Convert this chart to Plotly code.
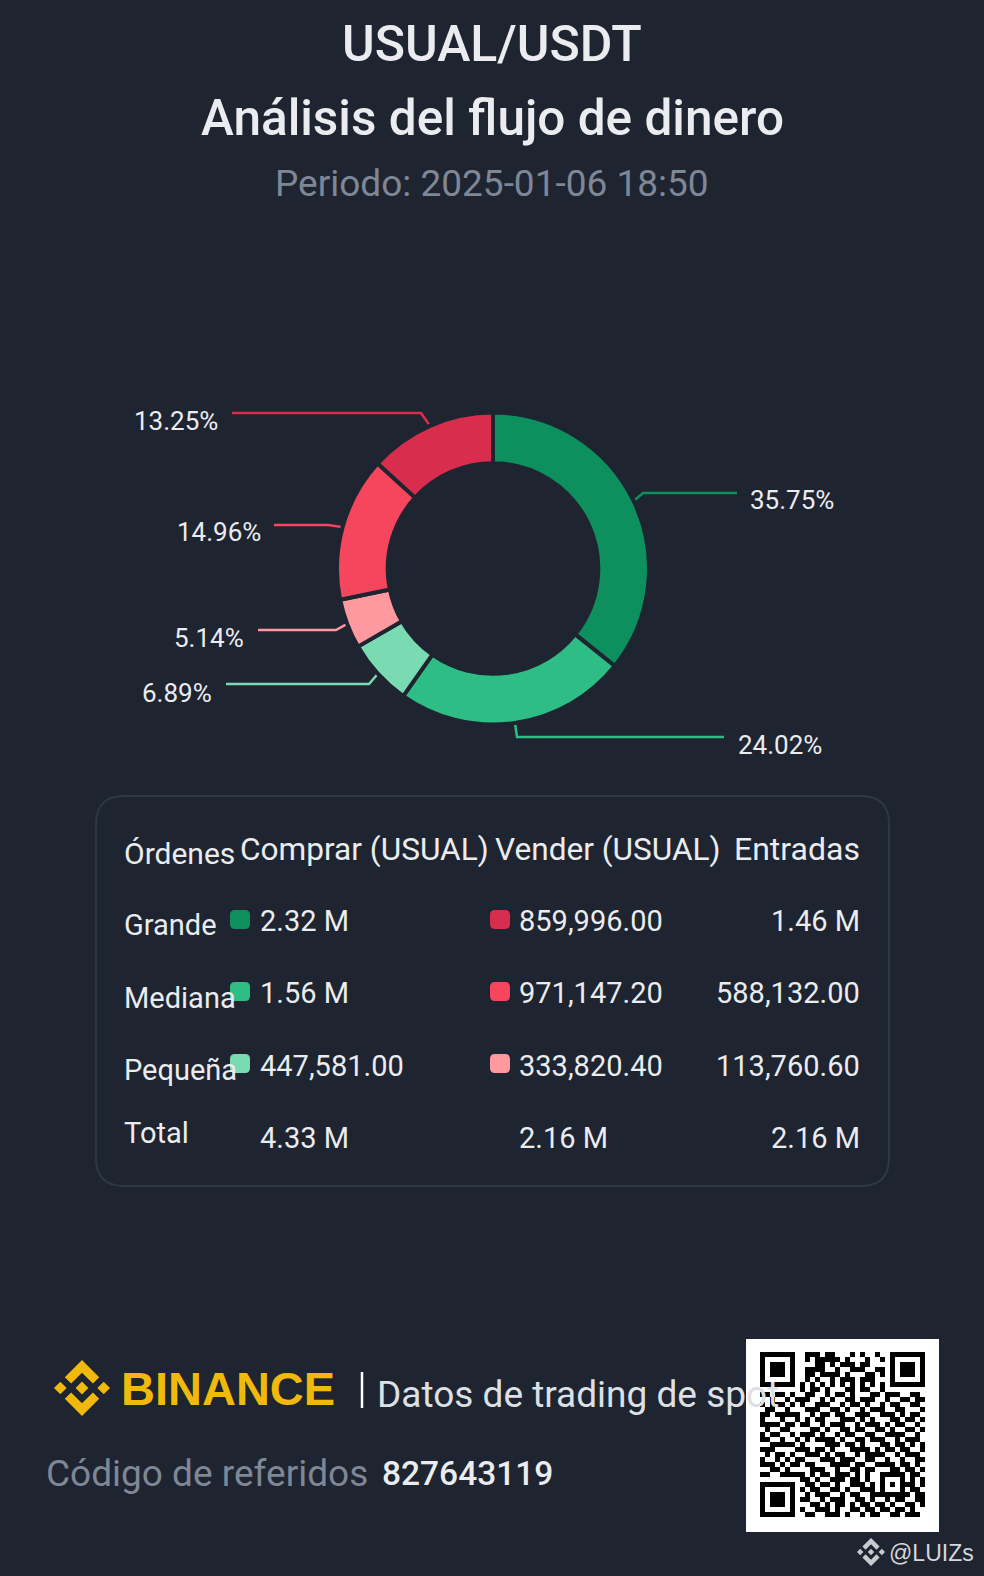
import math

import plotly.graph_objects as go

W = 984
H = 1576
BG = "#1E2430"
LIGHT = "#EAECEF"
GREY = "#7E8796"

# slices, clockwise from 12 o'clock
shares = [35.75, 24.02, 6.89, 5.14, 14.96, 13.25]
slice_names = ["Comprar Grande", "Comprar Mediana", "Comprar Pequeña",
               "Vender Pequeña", "Vender Mediana", "Vender Grande"]
slice_colors = ["#0E8F5E", "#2EBD85", "#7ADBB2", "#FF99A0", "#F6465D", "#D92D4E"]

# where each leader line bends and stops, and where its label sits
elbow_x = [643, 517, 369, 336, 328, 421]
elbow_y = [493, 737, 684, 630, 525, 413]
end_x = [737, 724, 226, 258, 274, 232]
label_x = [750, 738, 212, 244, 261, 218]
label_y = [500, 745, 693, 638, 532, 421]
label_anchor = ["left", "left", "right", "right", "right", "right"]

header = ["Órdenes", "Comprar (USUAL)", "Vender (USUAL)", "Entradas"]
orders = ["Grande", "Mediana", "Pequeña", "Total"]
buy_vals = ["2.32 M", "1.56 M", "447,581.00", "4.33 M"]
sell_vals = ["859,996.00", "971,147.20", "333,820.40", "2.16 M"]
inflow_vals = ["1.46 M", "588,132.00", "113,760.60", "2.16 M"]
buy_colors = ["#0E8F5E", "#2EBD85", "#7ADBB2"]
sell_colors = ["#D92D4E", "#F6465D", "#FF99A0"]

order_y = [925, 998, 1070, 1133]
value_y = [921, 993, 1066, 1138]
swatch_top = [910, 982, 1054]

F = ["1111111", "1000001", "1011101", "1011101", "1011101", "1000001", "1111111"]
qr_mid = ["0011101100010100100", "0010111110100010010", "0000110101110110000",
          "0011110010011100110", "0011011110100011010", "0010100101110111000",
          "0101010101010101010"]
qr_rows = [F[i] + qr_mid[i] + F[i] for i in range(7)] + [
    "00000000" + "10110100011011001" + "00000000",
    "110110100110010110100011011100110",
    "001001011100101001101110010011011",
    "101110101001110010110100101100110",
    "011001000111001101001011100110001",
    "110111110010110110011100111010110",
    "100010010101100011101010001101101",
    "111101101100101110010111010110010",
    "010011000011010011011001101001101",
    "101100101110100101100110011110010",
    "110010010101111010011011100101110",
    "001111101000011101101000110110101",
    "111000011101101000111101011011001",
    "010110100111010110010111100101110",
    "100101011000111011100110010010011",
    "111010110110001111011001111011010",
    "001101000011100100110110001101101",
    "110011111010110111010100" + "11111" + "0110",
    "00000000" + "1101001110110100" + "10001" + "0101",
    "11111110" + "0110110100111010" + "10101" + "1101",
    "10000010" + "1011001101001110" + "10001" + "0110",
    "10111010" + "0101110010110011" + "11111" + "1011",
    "10111010" + "1100101110011010" + "01011" + "0011",
    "10111010" + "0011010110101101" + "10100" + "1101",
    "10000010" + "1001110100110110" + "11011" + "0100",
    "11111110" + "0110011101001011" + "00110" + "1110",
]

# binance mark, outline points in its own 126.6 unit box
logo_polys = [
    [(38.73, 53.2), (63.32, 28.62), (87.92, 53.22), (102.22, 38.91), (63.32, 0), (24.43, 38.9)],
    [(0, 63.31), (14.3, 49.01), (28.61, 63.32), (14.3, 77.62)],
    [(38.73, 73.41), (63.32, 98), (87.92, 73.4), (102.23, 87.69), (63.33, 126.6), (24.42, 87.72)],
    [(98.01, 63.31), (112.31, 49.01), (126.62, 63.31), (112.31, 77.62)],
    [(77.83, 63.3), (63.32, 48.78), (48.81, 63.28), (63.32, 77.78)],
]

PIE_X = 493
PIE_Y = 568.5
PIE_R = 156


def txt(x, y, s, size, color=LIGHT, anchor="left", family="Roboto", weight=None):
    f = dict(size=size, color=color, family=family)
    if weight:
        f["weight"] = weight
    fig.add_annotation(x=x, y=y, xref="x", yref="y", text=s, showarrow=False,
                       xanchor=anchor, yanchor="middle", font=f, borderpad=0, borderwidth=0)


def round_rect(x0, y0, x1, y1, r):
    return (f"M{x0+r},{y0} L{x1-r},{y0} Q{x1},{y0} {x1},{y0+r} L{x1},{y1-r} Q{x1},{y1} {x1-r},{y1} "
            f"L{x0+r},{y1} Q{x0},{y1} {x0},{y1-r} L{x0},{y0+r} Q{x0},{y0} {x0+r},{y0} Z")


def add_logo(x0, y0, size, color):
    k = size / 126.62
    for poly in logo_polys:
        pts = [f"{x0 + px * k:.2f},{y0 + py * k:.2f}" for px, py in poly]
        fig.add_shape(type="path", xref="x", yref="y", layer="below", line_width=0,
                      fillcolor=color, path="M" + " L".join(pts) + " Z")


fig = go.Figure()

fig.add_trace(go.Pie(
    values=shares, labels=slice_names, sort=False, direction="clockwise", rotation=0,
    hole=0.675, textinfo="none", showlegend=False,
    marker=dict(colors=slice_colors, line=dict(color=BG, width=4)),
    domain=dict(x=[(PIE_X - PIE_R) / W, (PIE_X + PIE_R) / W],
                y=[1 - (PIE_Y + PIE_R) / H, 1 - (PIE_Y - PIE_R) / H]),
))

# leader lines start on the outer edge at each slice's middle angle
total = sum(shares)
run = 0
for i, v in enumerate(shares):
    a = math.radians((run + v / 2) / total * 360)
    run += v
    sx = PIE_X + PIE_R * math.sin(a)
    sy = PIE_Y - PIE_R * math.cos(a)
    fig.add_trace(go.Scatter(x=[sx, elbow_x[i], end_x[i]], y=[sy, elbow_y[i], elbow_y[i]],
                             mode="lines", line=dict(color=slice_colors[i], width=2.5),
                             showlegend=False, hoverinfo="skip", xaxis="x", yaxis="y"))

# qr code
fig.add_shape(type="rect", xref="x", yref="y", x0=746, x1=939, y0=1339, y1=1532,
              fillcolor="#FFFFFF", line_width=0, layer="below")
fig.add_trace(go.Heatmap(z=[[int(c) for c in r] for r in qr_rows], xaxis="x2", yaxis="y2",
                         colorscale=[[0, "#FFFFFF"], [1, "#000000"]], zmin=0, zmax=1,
                         showscale=False, hoverinfo="skip"))

txt(492, 44, "USUAL/USDT", 50, anchor="center", weight=500)
txt(492, 118, "Análisis del flujo de dinero", 49.5, anchor="center", weight=500)
txt(492, 183, "Periodo: 2025-01-06 18:50", 37, GREY, anchor="center")

for i, v in enumerate(shares):
    txt(label_x[i], label_y[i], f"{v:.2f}%", 26, anchor=label_anchor[i])

# table panel
fig.add_shape(type="path", xref="x", yref="y", layer="below", fillcolor=BG,
              line=dict(color="#303744", width=2), path=round_rect(96, 796, 889, 1186, 28))

txt(124, 853, header[0], 30)
txt(240, 849, header[1], 31.6)
txt(495, 849, header[2], 31.6)
txt(860, 849, header[3], 32, anchor="right")

for i, name in enumerate(orders):
    txt(124, order_y[i], name, 29)
    txt(260, value_y[i], buy_vals[i], 29)
    txt(519, value_y[i], sell_vals[i], 29)
    txt(860, value_y[i], inflow_vals[i], 29, anchor="right")

for i in range(3):
    fig.add_shape(type="path", xref="x", yref="y", layer="below", line_width=0, fillcolor=buy_colors[i],
                  path=round_rect(230, swatch_top[i], 250, swatch_top[i] + 19, 5))
    fig.add_shape(type="path", xref="x", yref="y", layer="below", line_width=0, fillcolor=sell_colors[i],
                  path=round_rect(490, swatch_top[i], 510, swatch_top[i] + 19, 5))

# footer
add_logo(54, 1360, 56, "#F0B90B")
txt(121, 1388, "BINANCE", 47, "#F0B90B", family="Liberation Sans", weight=700)
fig.add_shape(type="line", xref="x", yref="y", x0=362, x1=362, y0=1372, y1=1408,
              line=dict(color="#FFFFFF", width=2.5), layer="below")
txt(377, 1394, "Datos de trading de spot", 37, "#DDE0E5")
txt(46, 1473, "Código de referidos", 37, GREY)
txt(382, 1473, "827643119", 33.5, weight=500)

add_logo(857, 1538, 28, "#C8CAD0")
txt(889, 1553, "@LUIZs", 23, "#D5D7DC", family="Liberation Sans")

fig.update_layout(
    width=W, height=H, autosize=False,
    margin=dict(l=0, r=0, t=0, b=0),
    paper_bgcolor=BG, plot_bgcolor=BG, showlegend=False,
    xaxis=dict(domain=[0, 1], range=[0, W], visible=False, fixedrange=True),
    yaxis=dict(domain=[0, 1], range=[H, 0], visible=False, fixedrange=True),
    xaxis2=dict(domain=[760 / W, 925 / W], range=[-0.5, 32.5], visible=False, anchor="y2"),
    yaxis2=dict(domain=[1 - 1517 / H, 1 - 1352 / H], range=[32.5, -0.5], visible=False, anchor="x2"),
)

fig.write_html("out.html", config=dict(displayModeBar=False),
               post_script="document.body.style.margin='0';document.body.style.background='%s';" % BG)
